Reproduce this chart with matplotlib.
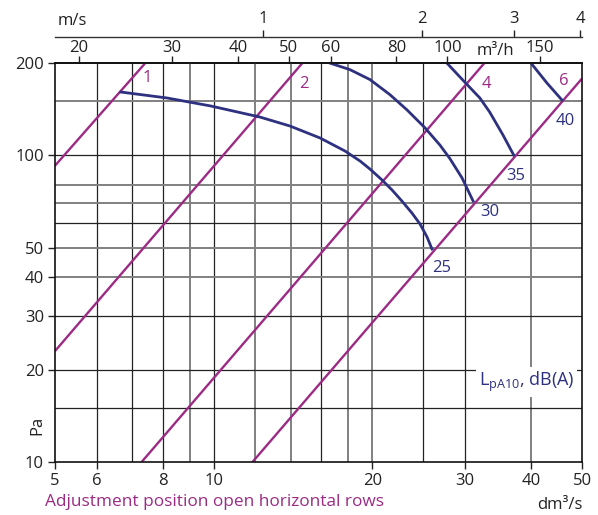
import numpy as np
import matplotlib
matplotlib.use('agg')
import matplotlib.pyplot as plt
from matplotlib.ticker import NullLocator, FixedLocator, FixedFormatter

plt.rcParams['font.family'] = ['Open Sans', 'DejaVu Sans']

PURPLE = '#9b2b85'
BLUE = '#2e3180'
TXT = '#222222'

# flow dm3/s on x, pressure Pa on y
x_ticks = [5, 6, 8, 10, 20, 30, 40, 50]
y_ticks = [10, 20, 30, 40, 50, 100, 200]
top_ticks = [20, 30, 40, 50, 60, 80, 100, 150]   # m3/h
ms_ticks = [1, 2, 3, 4]                          # m/s

grid_x_dark = [6, 7, 8, 10, 16, 25, 30]
grid_x_gray = [9, 12, 14, 18, 20, 40]
grid_y_dark = [15, 20, 30, 60, 100]
grid_y_gray = [40, 50, 70, 80, 150]

# adjustment position lines (end points)
pos_names = ['1', '2', '4', '6']
pos_q = [[5, 7.42], [5, 14.74], [7.3, 32.65], [11.85, 50]]
pos_p = [[92.5, 200], [23, 200], [10, 200], [10, 178]]
pos_lbl_q = [7.48, 14.84, 33.0, 46.1]
pos_lbl_p = [178.6, 171.4, 171.4, 174.6]

# sound level curves
snd_names = ['25', '30', '35', '40']
snd_q = [
    [6.67, 8.16, 9.88, 12.24, 13.96, 15.92, 17.75, 18.96, 19.80, 20.87, 21.80,
     22.77, 23.79, 24.64, 25.40, 25.96],
    [16.6, 18.14, 19.8, 21.6, 23.28, 25.18, 26.89, 28.08, 29.6, 31.07],
    [27.7, 29.7, 32.0, 33.4, 35.4, 37.1],
    [40.0, 42.9, 45.8],
]
snd_p = [
    [160.8, 153.8, 144.8, 133.3, 124.6, 113.9, 103.3, 95.8, 90.2, 83.1, 77.1,
     70.9, 64.8, 59.7, 54.2, 49.5],
    [200, 190.3, 176.6, 157.7, 140.6, 122.9, 107.9, 97.5, 84.4, 70.95],
    [200, 176, 153.8, 138.4, 116.5, 100.2],
    [200, 172.1, 151.5],
]
snd_lbl_q = [27.1, 33.4, 37.4, 46.4]
snd_lbl_p = [43.0, 65.1, 85.9, 129.4]

fig = plt.figure(figsize=(5.98, 5.15), dpi=100)
ax = fig.add_axes([55/598, 1-462/515, 527/598, 399/515])
ax.set_xscale('log')
ax.set_yscale('log')
ax.set_xlim(5, 50)
ax.set_ylim(10, 200)

for v in grid_x_dark:
    ax.axvline(v, color='#222222', lw=0.9, zorder=1)
for v in grid_x_gray:
    ax.axvline(v, color='#808080', lw=1.4, zorder=1)
for v in grid_y_dark:
    ax.axhline(v, color='#222222', lw=0.9, zorder=1)
for v in grid_y_gray:
    ax.axhline(v, color='#808080', lw=1.4, zorder=1)

for name, q, p, lq, lp in zip(pos_names, pos_q, pos_p, pos_lbl_q, pos_lbl_p):
    ax.plot(q, p, color=PURPLE, lw=1.7, zorder=3, solid_capstyle='butt')
    ax.text(lq, lp, name, color=PURPLE, fontsize=12, ha='center', va='center', zorder=5)

for name, q, p, lq, lp in zip(snd_names, snd_q, snd_p, snd_lbl_q, snd_lbl_p):
    ax.plot(q, p, color=BLUE, lw=2.0, zorder=4)
    ax.text(lq, lp, name, color=BLUE, fontsize=12, ha='center', va='center', zorder=5)

ax.text(0.985, 0.2, r'L$_\mathregular{pA10}$, dB(A)', transform=ax.transAxes,
        color=BLUE, fontsize=13, ha='right', va='center', zorder=6,
        bbox=dict(facecolor='white', edgecolor='none', pad=2))

for sp in ax.spines.values():
    sp.set_linewidth(1.2)
    sp.set_color('#111111')
    sp.set_zorder(7)

ax.xaxis.set_major_locator(FixedLocator(x_ticks))
ax.xaxis.set_major_formatter(FixedFormatter([str(v) for v in x_ticks]))
ax.xaxis.set_minor_locator(NullLocator())
ax.yaxis.set_major_locator(FixedLocator(y_ticks))
ax.yaxis.set_major_formatter(FixedFormatter([str(v) for v in y_ticks]))
ax.yaxis.set_minor_locator(NullLocator())
ax.tick_params(axis='both', length=5, width=1, labelsize=12, colors=TXT, pad=3)

top = ax.secondary_xaxis('top', functions=(lambda q: q*3.6, lambda h: h/3.6))
top.xaxis.set_major_locator(FixedLocator(top_ticks))
top.xaxis.set_major_formatter(FixedFormatter([str(v) for v in top_ticks]))
top.xaxis.set_minor_locator(NullLocator())
top.tick_params(length=5, width=1, labelsize=12, colors=TXT, pad=0)
top.spines['top'].set_linewidth(1.2)

ms = ax.secondary_xaxis(1.066, functions=(lambda q: q/12.4, lambda v: v*12.4))
ms.xaxis.set_major_locator(FixedLocator(ms_ticks))
ms.xaxis.set_major_formatter(FixedFormatter([str(v) for v in ms_ticks]))
ms.xaxis.set_minor_locator(NullLocator())
ms.tick_params(length=5, width=1, labelsize=12, colors=TXT, pad=2)
ms.spines['top'].set_linewidth(1.0)
ms.spines['top'].set_color('#333333')

fig.text(58/598, 1-25/515, 'm/s', fontsize=12, color=TXT, ha='left', va='baseline')
fig.text(495/598, 1-55/515, 'm³/h', fontsize=12, color=TXT, ha='center', va='baseline')
fig.text(583/598, 1-509/515, 'dm³/s', fontsize=12, color=TXT, ha='right', va='baseline')
fig.text(37/598, 1-425/515, 'Pa', fontsize=12, color=TXT, rotation=90, ha='center', va='center')
fig.text(45/598, 1-506/515, 'Adjustment position open horizontal rows', fontsize=12.4,
         color=PURPLE, ha='left', va='baseline')

fig.savefig('out.png', dpi=100)
